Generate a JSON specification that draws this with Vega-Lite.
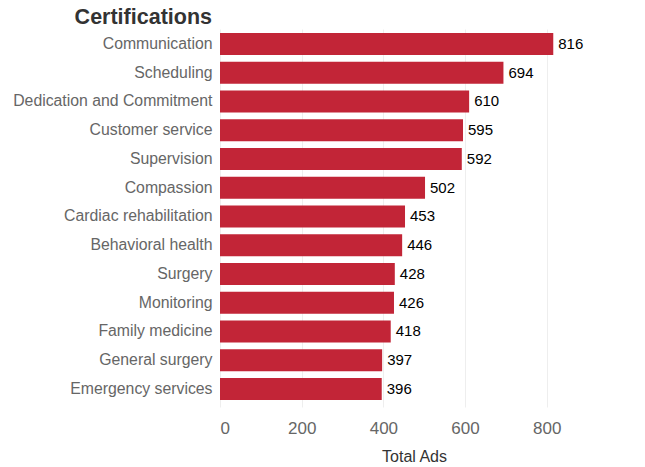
{
  "$schema": "https://vega.github.io/schema/vega-lite/v6.json",
  "autosize": {"type": "none"},
  "width": 388,
  "height": 378,
  "padding": {"left": 220, "top": 29, "right": 37, "bottom": 60},
  "background": "white",
  "config": {
    "font": "Liberation Sans",
    "view": {"stroke": null}
  },
  "title": {
    "text": "Certifications",
    "anchor": "start",
    "frame": "group",
    "align": "right",
    "dx": -8,
    "fontSize": 21.5,
    "fontWeight": "bold",
    "color": "#333333",
    "font": "Liberation Sans",
    "offset": 1
  },
  "data": {
    "values": [
      {"skill": "Communication", "ads": 816},
      {"skill": "Scheduling", "ads": 694},
      {"skill": "Dedication and Commitment", "ads": 610},
      {"skill": "Customer service", "ads": 595},
      {"skill": "Supervision", "ads": 592},
      {"skill": "Compassion", "ads": 502},
      {"skill": "Cardiac rehabilitation", "ads": 453},
      {"skill": "Behavioral health", "ads": 446},
      {"skill": "Surgery", "ads": 428},
      {"skill": "Monitoring", "ads": 426},
      {"skill": "Family medicine", "ads": 418},
      {"skill": "General surgery", "ads": 397},
      {"skill": "Emergency services", "ads": 396}
    ]
  },
  "encoding": {
    "y": {
      "field": "skill",
      "type": "nominal",
      "sort": null,
      "scale": {"paddingInner": 0.23, "paddingOuter": 0.19, "align": 0.36},
      "axis": {
        "title": null,
        "ticks": false,
        "domain": false,
        "grid": false,
        "labelFontSize": 15.8,
        "labelColor": "#666666",
        "labelPadding": 8,
        "labelLimit": 300
      }
    },
    "x": {
      "field": "ads",
      "type": "quantitative",
      "scale": {"domain": [0, 950], "nice": false},
      "axis": {
        "title": "Total Ads",
        "values": [0, 200, 400, 600, 800],
        "ticks": false,
        "domain": false,
        "grid": true,
        "gridColor": "#eeeeee",
        "labelFontSize": 17,
        "labelColor": "#666666",
        "labelPadding": 13,
        "labelFlush": true,
        "titleFontSize": 16,
        "titleFontWeight": "normal",
        "titleColor": "#333333",
        "titlePadding": 12
      }
    }
  },
  "layer": [
    {"mark": {"type": "bar", "color": "#c22537"}},
    {
      "mark": {"type": "text", "align": "left", "baseline": "middle", "dx": 5, "fontSize": 15, "color": "#000000"},
      "encoding": {"text": {"field": "ads", "type": "quantitative"}}
    }
  ]
}
